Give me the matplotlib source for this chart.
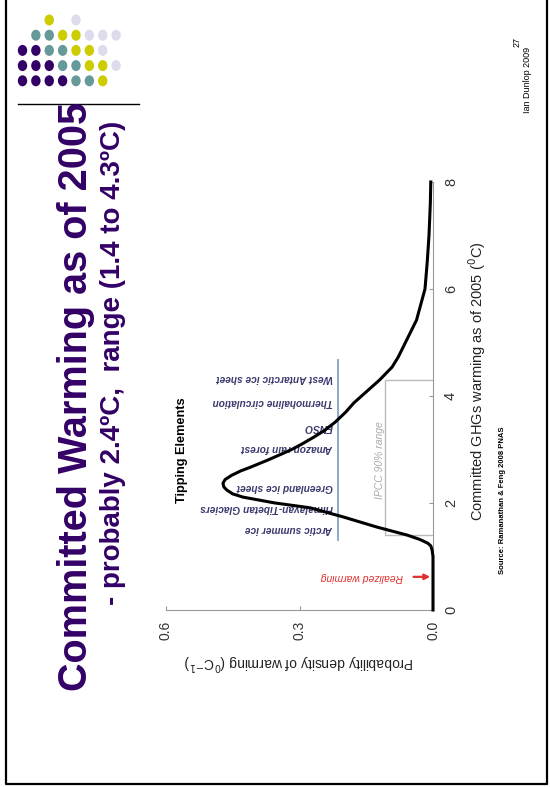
import numpy as np
import matplotlib
matplotlib.use("Agg")
import matplotlib.pyplot as plt
from matplotlib.patches import Ellipse

plt.rcParams['font.family'] = ['Liberation Sans', 'DejaVu Sans']

# --- data (Ramanathan & Feng 2008) ---
warming = [0.0, 1.0, 1.12, 1.20, 1.25, 1.32, 1.40, 1.55, 1.74, 1.91, 2.00, 2.11, 2.17,
           2.24, 2.30, 2.37, 2.44, 2.52, 2.60, 2.67, 2.80, 2.99, 3.10, 3.23, 3.35,
           3.51, 3.70, 3.87, 4.10, 4.30, 4.54, 4.73, 5.10, 5.42, 6.0, 6.5, 7.0, 7.6, 8.0]
density = [0.0, 0.0, 0.002, 0.005, 0.012, 0.030, 0.058, 0.126, 0.202, 0.276, 0.355, 0.427,
           0.450, 0.463, 0.470, 0.472, 0.467, 0.452, 0.432, 0.410, 0.372, 0.320, 0.295,
           0.268, 0.245, 0.220, 0.196, 0.178, 0.147, 0.120, 0.092, 0.078, 0.056, 0.037,
           0.018, 0.013, 0.009, 0.006, 0.005]

tipping_names = ['Arctic summer ice', 'Himalayan-Tibetan Glaciers', 'Greenland ice sheet',
                 'Amazon rain forest', 'ENSO', 'Thermohaline circulation',
                 'West Antarctic ice sheet']
tipping_warming = [1.51, 1.91, 2.30, 3.03, 3.42, 3.89, 4.34]
tipping_line_density = 0.213
tipping_line_range = (1.30, 4.67)

ipcc_range = (1.4, 4.3)
ipcc_density = 0.108
realized_warming = 0.62

x_ticks = [0, 2, 4, 6, 8]
y_ticks = [0.0, 0.3, 0.6]

# logo dots: P purple, T teal, Y yellow, L lavender
dot_rows = ['..Y.L...', '.TTYYLLL', 'PPTTYYL.', 'PPPTTYYL', 'PPPPTTY.']
dot_colors = {'P': '#330066', 'T': '#669999', 'Y': '#cccc00', 'L': '#dcdcec'}

W, H = 550, 787
fig = plt.figure(figsize=(W / 100, H / 100), dpi=100)

# --- slide background layer in pixel coords ---
bg = fig.add_axes([0, 0, 1, 1])
bg.set_xlim(0, W)
bg.set_ylim(H, 0)
bg.axis('off')

bg.plot([6, 6, 547, 547], [0, 784, 784, 0], color='black', lw=1.6)
bg.plot([17.5, 138.5], [103.5, 103.5], color='black', lw=1)

for r, row in enumerate(dot_rows):
    for c, code in enumerate(row):
        if code == '.':
            continue
        bg.add_patch(Ellipse((22.5 + 13.37 * c, 20 + 15.2 * r), 9.4, 11,
                             color=dot_colors[code], lw=0))

bg.text(76, 396, 'Committed Warming as of 2005', rotation=90, ha='center', va='center',
        fontsize=28.5, weight='bold', color='#330066')
bg.text(113, 363, '- probably 2.4ºC,  range (1.4 to 4.3ºC)', rotation=90,
        ha='center', va='center', fontsize=20, weight='bold', color='#330066')
bg.text(517, 42, '27', rotation=90, ha='center', va='center', fontsize=6.5)
bg.text(528, 80, 'Ian Dunlop 2009', rotation=90, ha='center', va='center', fontsize=6.5)

bg.text(477, 381, 'Committed GHGs warming as of 2005 ($^{0}$C)', rotation=90,
        ha='center', va='center', fontsize=10.5, color='#222222')
bg.text(502, 500, 'Source: Ramanathan & Feng 2008 PNAS', rotation=90,
        ha='center', va='center', fontsize=5.5, weight='bold')
bg.text(182, 450, 'Tipping Elements', rotation=90, ha='center', va='center',
        fontsize=9.2, weight='bold')
bg.text(299, 662, 'Probability density of warming ($^{0}$C$^{-1}$)', rotation=180,
        ha='center', va='center', fontsize=10, color='#222222')

# --- rotated chart: density runs leftwards, warming runs upwards ---
ax = fig.add_axes([166 / W, (H - 610) / H, (433 - 166) / W, (610 - 182) / H])
ax.set_xlim(0.6, 0.0)
ax.set_ylim(0, 8)
ax.patch.set_alpha(0)
for side in ['top', 'left']:
    ax.spines[side].set_visible(False)
for side in ['bottom', 'right']:
    ax.spines[side].set_color('#999999')
    ax.spines[side].set_linewidth(0.8)
ax.yaxis.tick_right()
ax.set_xticks(y_ticks)
ax.set_xticklabels(['%.1f' % v for v in y_ticks], rotation=90, fontsize=10, color='#333333')
ax.set_yticks(x_ticks)
ax.set_yticklabels([str(v) for v in x_ticks], rotation=90, fontsize=10.5,
                   color='#333333', va='center')
ax.tick_params(direction='in', length=3, color='#999999', pad=8)

ax.plot(density, warming, color='black', lw=2.2, clip_on=False, zorder=5,
        solid_joinstyle='round')

ax.plot([tipping_line_density] * 2, tipping_line_range, color='#8fa8cc', lw=1.4)
for name, w in zip(tipping_names, tipping_warming):
    ax.text(tipping_line_density + 0.012, w, name, rotation=180, ha='right', va='center',
            fontsize=7.3, style='italic', weight='bold', color='#3a3a6e')

ax.plot([0, ipcc_density, ipcc_density, 0],
        [ipcc_range[0], ipcc_range[0], ipcc_range[1], ipcc_range[1]],
        color='#bbbbbb', lw=1)
ax.text(ipcc_density + 0.012, 2.8, 'IPCC 90% range', rotation=90, ha='center', va='center',
        fontsize=7.5, style='italic', color='#aaaaaa')

ax.annotate('', xy=(0.0, realized_warming), xytext=(0.05, realized_warming),
            arrowprops=dict(arrowstyle='-|>', color='#e03030', lw=1.6, mutation_scale=8))
ax.text(0.068, realized_warming, 'Realized warming', rotation=180, ha='right', va='center',
        fontsize=7.5, style='italic', color='#e03030')

fig.savefig('out.png', dpi=100)
